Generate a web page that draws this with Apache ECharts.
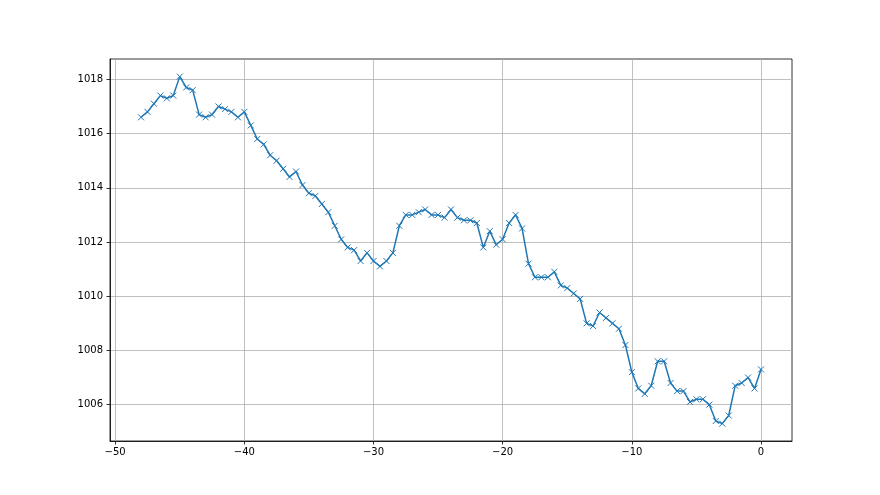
<!DOCTYPE html>
<html>
<head>
<meta charset="utf-8">
<script src="https://cdn.jsdelivr.net/npm/echarts@6/dist/echarts.min.js"></script>
<style>
html,body{margin:0;padding:0;background:#fff;}
#chart{width:880px;height:495px;}
</style>
</head>
<body>
<div id="chart"></div>
<script>
const xValues = [-48,-47.5,-47,-46.5,-46,-45.5,-45,-44.5,-44,-43.5,-43,-42.5,-42,-41.5,-41,-40.5,-40,-39.5,-39,-38.5,-38,-37.5,-37,-36.5,-36,-35.5,-35,-34.5,-34,-33.5,-33,-32.5,-32,-31.5,-31,-30.5,-30,-29.5,-29,-28.5,-28,-27.5,-27,-26.5,-26,-25.5,-25,-24.5,-24,-23.5,-23,-22.5,-22,-21.5,-21,-20.5,-20,-19.5,-19,-18.5,-18,-17.5,-17,-16.5,-16,-15.5,-15,-14.5,-14,-13.5,-13,-12.5,-12,-11.5,-11,-10.5,-10,-9.5,-9,-8.5,-8,-7.5,-7,-6.5,-6,-5.5,-5,-4.5,-4,-3.5,-3,-2.5,-2,-1.5,-1,-0.5,0];
const pressure = [1016.6,1016.8,1017.1,1017.4,1017.3,1017.4,1018.1,1017.7,1017.6,1016.7,1016.6,1016.7,1017.0,1016.9,1016.8,1016.6,1016.8,1016.3,1015.8,1015.6,1015.2,1015.0,1014.7,1014.4,1014.6,1014.1,1013.8,1013.7,1013.4,1013.1,1012.6,1012.1,1011.8,1011.7,1011.3,1011.6,1011.3,1011.1,1011.3,1011.6,1012.6,1013.0,1013.0,1013.1,1013.2,1013.0,1013.0,1012.9,1013.2,1012.9,1012.8,1012.8,1012.7,1011.8,1012.4,1011.9,1012.1,1012.7,1013.0,1012.5,1011.2,1010.7,1010.7,1010.7,1010.9,1010.4,1010.3,1010.1,1009.9,1009.0,1008.9,1009.4,1009.2,1009.0,1008.8,1008.2,1007.2,1006.6,1006.4,1006.7,1007.6,1007.6,1006.8,1006.5,1006.5,1006.1,1006.2,1006.2,1006.0,1005.4,1005.3,1005.6,1006.7,1006.8,1007.0,1006.6,1007.3];
const xTicks = [-50,-40,-30,-20,-10,0];
const yTicks = [1006,1008,1010,1012,1014,1016,1018];

const chart = echarts.init(document.getElementById('chart'), null, {renderer:'canvas'});
const font = {fontFamily:'DejaVu Sans', fontSize:10, color:'#000'};
chart.setOption({
  animation:false,
  backgroundColor:'#fff',
  grid:{left:110, right:88, top:59, bottom:54, show:true, borderColor:'#000', borderWidth:0.8, backgroundColor:'transparent'},
  xAxis:{
    type:'value', min:-50.4, max:2.4,
    axisLine:{show:true, onZero:false, lineStyle:{color:'#000', width:0.8}},
    axisTick:{show:true, inside:false, length:3.5, customValues:xTicks, lineStyle:{color:'#000', width:0.8}},
    axisLabel:Object.assign({margin:6, customValues:xTicks, formatter:v=>String(v).replace('-','\u2212')}, font),
    splitLine:{show:true, lineStyle:{color:'#b0b0b0', width:0.8}}
  },
  yAxis:{
    type:'value', min:1004.66, max:1018.75,
    axisLine:{show:true, onZero:false, lineStyle:{color:'#000', width:0.8}},
    axisTick:{show:true, inside:false, length:3.5, customValues:yTicks, lineStyle:{color:'#000', width:0.8}},
    axisLabel:Object.assign({margin:7, customValues:yTicks, formatter:v=>String(v)}, font),
    splitLine:{show:true, lineStyle:{color:'#b0b0b0', width:0.8}}
  },
  series:[{
    type:'line',
    data:xValues.map((x,i)=>[x,pressure[i]]),
    symbol:'path://M0,0L10,10M10,0L0,10',
    symbolSize:6,
    showAllSymbol:true,
    lineStyle:{color:'#1f77b4', width:1.5},
    itemStyle:{color:'#1f77b4', borderColor:'#1f77b4', borderWidth:1},
    emphasis:{disabled:true}
  }]
});
</script>
</body>
</html>
